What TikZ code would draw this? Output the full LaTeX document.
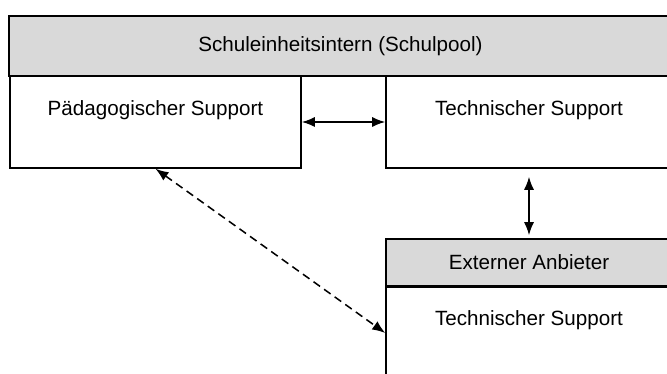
\documentclass[tikz,border=0pt]{standalone}
\usepackage{fontspec}
\setmainfont{Liberation Sans}
\usetikzlibrary{arrows.meta}
\definecolor{headgray}{RGB}{217,217,217}
\tikzset{
  box/.style={draw,line width=1.3pt,fill=white,inner sep=0pt},
  headbox/.style={box,fill=headgray},
  link/.style={line width=1.3pt,{Latex[length=0.39cm,width=0.3cm]}-{Latex[length=0.39cm,width=0.3cm]}},
  boxtext/.style={anchor=center,yshift=-1.05cm,font=\fontsize{17.6pt}{20pt}\selectfont}
}
\begin{document}
\begin{tikzpicture}[x=0.03cm,y=-0.03cm,font=\fontsize{17.6pt}{20pt}\selectfont]
\clip (0,0) rectangle (667,374);
\fill[white] (0,0) rectangle (667,374);
\node[headbox,minimum width=19.89cm,minimum height=1.8cm] (pool) at (340.5,46) {Schuleinheitsintern (Schulpool)};
\node[box,minimum width=8.73cm,minimum height=2.76cm,label={[boxtext]north:Pädagogischer Support}] (paed) at (155.5,122) {};
\node[box,minimum width=8.58cm,minimum height=2.76cm,label={[boxtext]north:Technischer Support}] (tech) at (529,122) {};
\node[box,minimum width=8.58cm,minimum height=2.82cm,label={[boxtext]north:Technischer Support}] (techext) at (529,333) {};
\node[headbox,minimum width=8.58cm,minimum height=1.41cm] (extern) at (529,262.5) {Externer Anbieter};
\draw[line width=2pt] (extern.south west) -- (extern.south east);
\draw[link] (paed) -- (tech);
\draw[link,shorten <=0.24cm,shorten >=0.09cm] (tech.south) -- (extern.north);
\draw[link,dash pattern=on 0.24cm off 0.15cm] (paed.south) -- (techext.west);
\end{tikzpicture}
\end{document}
